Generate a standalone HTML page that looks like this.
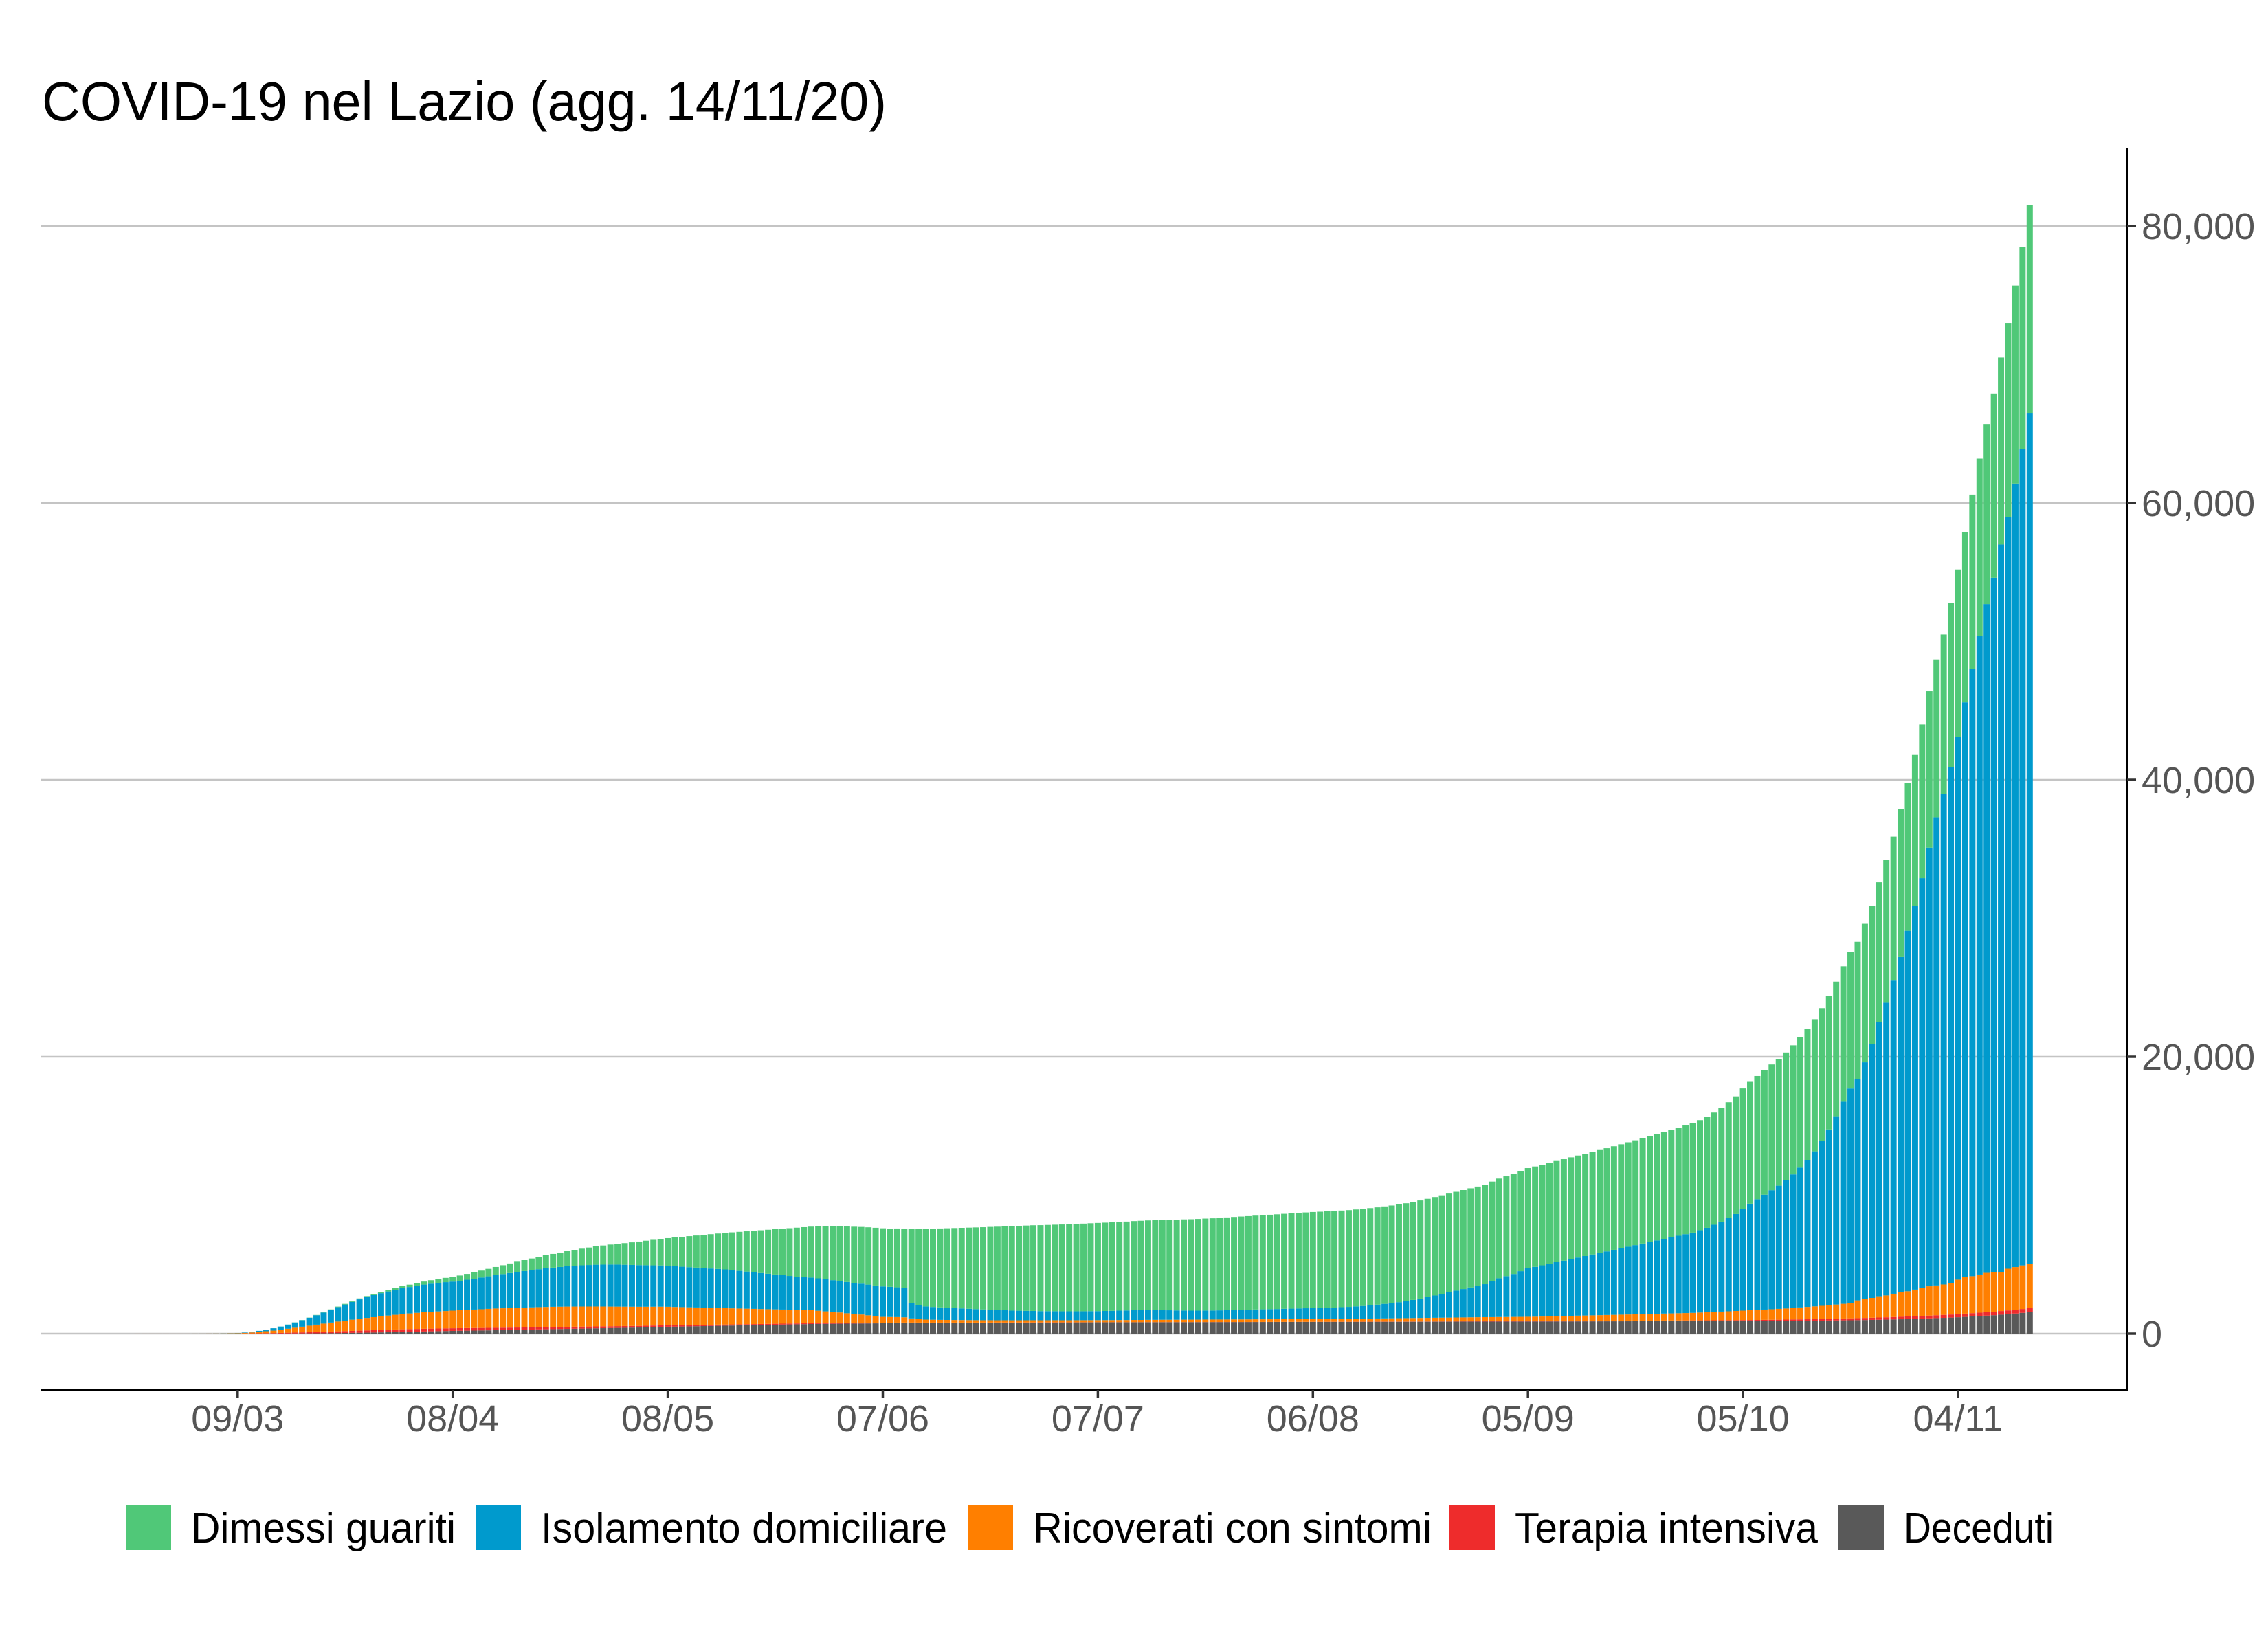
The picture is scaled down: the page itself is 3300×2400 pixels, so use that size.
<!DOCTYPE html>
<html><head><meta charset="utf-8"><title>COVID-19 nel Lazio</title>
<style>
html,body{margin:0;padding:0;background:#fff;}
svg{display:block;font-family:"Liberation Sans",sans-serif;}
</style></head>
<body>
<svg id="chart" width="3300" height="2400" viewBox="0 0 3300 2400" xmlns="http://www.w3.org/2000/svg">
<rect width="3300" height="2400" fill="#fff"/>
<text x="61" y="175" font-size="80" fill="#000" textLength="1229" lengthAdjust="spacingAndGlyphs">COVID-19 nel Lazio (agg. 14/11/20)</text>
<g id="grid"></g>
<g id="bars"></g>
<g id="axes"></g>
<g id="legend"></g>
</svg>
<script>
// Day 0 = 24/02/2020, one bar per day to 14/11/2020
const deceduti = [0,0,0,0,0,0,0,0,0,0,0,0,0,0,0,
2,3,4,5,6,8,10,13,16,20,24,29,35,41,48,55,63,71,80,90,100,110,120,131,142,154,166,178,190,200,
208,216,224,232,240,249,258,267,276,285,295,305,315,325,335,345,355,365,375,385,395,405,415,425,435,445,460,475,490,500,
505,515,525,535,545,555,565,575,585,595,605,615,625,635,645,655,665,675,685,695,700,705,710,715,720,725,730,735,740,745,
748,752,756,760,763,766,769,772,775,778,780,782,784,786,788,790,792,794,796,798,800,802,804,806,808,810,812,814,816,818,
819,820,821,822,823,824,825,826,827,828,829,830,831,832,833,834,835,836,837,838,839,840,841,842,843,844,845,846,847,848,
849,850,851,852,853,854,855,856,857,858,859,860,861,862,863,864,865,866,867,868,869,870,871,872,873,874,875,876,877,878,
879,880,881,882,883,884,885,886,887,888,889,890,891,892,893,894,895,896,897,898,899,900,901,902,903,904,905,906,908,910,
912,914,916,918,920,923,926,930,934,938,943,948,954,960,967,
975,985,995,1005,1015,1025,1040,1055,1070,1085,1100,1120,1140,1160,1185,1210,1240,1270,1300,1330,1370,1410,1450,1500,1580];
const terapia = [0,0,0,0,0,0,0,0,0,0,1,1,1,2,3,
10,15,20,28,35,45,55,65,75,85,95,105,115,125,135,145,155,165,172,180,185,190,195,198,200,200,198,196,194,192,
190,188,185,182,180,177,174,171,168,165,162,160,158,155,152,150,147,144,140,137,134,130,127,124,120,117,114,111,108,105,
102,100,98,95,92,90,88,85,82,80,78,75,72,70,68,65,62,60,58,56,55,54,53,52,51,50,49,48,47,46,
45,44,43,40,35,30,28,25,22,20,18,16,15,14,13,12,12,11,11,10,10,10,10,10,9,9,9,9,9,9,
9,9,9,8,8,8,8,8,8,8,8,7,7,7,7,7,7,7,6,6,6,6,6,7,7,7,8,8,8,9,
9,9,10,10,10,11,11,12,12,13,13,14,14,15,15,16,16,17,17,18,18,19,20,20,21,22,23,24,25,26,
26,27,28,29,30,31,32,33,34,35,36,37,38,40,42,44,46,48,50,52,54,56,58,60,62,64,66,68,70,72,
75,78,82,86,90,94,98,102,107,112,117,122,128,134,140,
145,150,156,162,168,174,180,186,192,198,204,210,216,222,228,234,240,246,252,258,264,270,276,282,290];
const ricoverati = [1,1,1,1,1,1,1,1,2,3,5,8,12,20,30,
45,70,100,140,180,230,290,350,410,470,530,590,650,710,760,810,860,900,940,980,1020,1060,1100,1130,1160,1190,1210,1230,1250,1270,
1290,1310,1330,1350,1370,1390,1400,1410,1420,1430,1440,1450,1455,1460,1460,1460,1455,1450,1445,1440,1430,1420,1410,1400,1390,1380,1370,1360,1350,1335,
1320,1300,1280,1260,1240,1220,1200,1180,1160,1140,1120,1100,1080,1060,1040,1020,1000,980,960,940,900,850,800,760,700,650,600,540,480,420,
410,400,380,300,250,220,210,200,195,190,185,180,175,170,170,165,165,160,160,160,160,155,155,155,150,150,150,150,150,150,
150,150,155,155,160,160,165,165,170,170,170,175,175,175,180,180,180,180,185,185,185,190,190,190,190,195,195,195,200,200,
200,205,205,210,210,215,215,220,225,230,235,240,245,250,255,260,265,270,275,280,285,290,295,300,300,305,305,310,310,315,
320,330,340,350,360,370,380,390,400,410,420,430,440,450,460,470,480,490,500,510,520,530,540,560,580,600,620,640,660,680,
700,720,740,760,780,800,830,860,890,920,950,980,1020,1060,1100,
1280,1385,1429,1533,1577,1681,1780,1819,1918,2017,2116,2150,2194,2288,2487,2646,2670,2754,2838,2862,2816,3010,3084,3148,3180];
const isolamento = [0,0,0,0,0,0,0,0,1,2,3,5,8,12,18,
30,50,80,120,170,230,300,380,470,570,680,800,920,1040,1160,1280,1400,1500,1590,1670,1740,1800,1860,1910,1960,2000,2035,2065,2085,2100,
2130,2180,2230,2290,2350,2410,2470,2530,2590,2640,2690,2740,2790,2830,2870,2910,2950,2980,3000,3020,3030,3040,3040,3030,3020,3010,3000,2990,2980,2960,
2940,2920,2900,2880,2860,2840,2820,2800,2760,2720,2680,2640,2600,2560,2520,2480,2440,2400,2380,2360,2340,2320,2300,2280,2260,2240,2230,2220,2210,2200,
2180,2150,2100,1100,1000,950,920,900,880,860,840,820,800,780,760,740,720,700,690,680,670,660,655,650,650,645,645,645,650,650,
660,670,680,690,700,700,700,700,690,680,670,660,650,650,650,650,660,670,680,690,700,710,720,730,740,750,760,770,780,790,
800,810,820,840,860,890,920,960,1000,1050,1100,1160,1230,1310,1400,1500,1610,1720,1830,1940,2050,2160,2270,2380,2600,2800,2950,3100,3300,3500,
3600,3700,3800,3900,4000,4100,4200,4300,4400,4500,4600,4700,4800,4900,5000,5100,5200,5300,5400,5500,5600,5700,5800,5950,6100,6300,6500,6750,7000,7350,
7700,8000,8300,8600,8900,9250,9650,10100,10600,11200,11900,12700,13600,14600,15500,
16000,17080,18320,19800,21140,22620,24200,26040,27720,29600,31680,33820,35450,37230,39200,41510,43850,46130,48310,50150,52550,54310,56590,58970,61450];
const guariti = [0,0,0,0,0,0,0,0,0,0,0,0,0,0,0,
0,0,0,1,2,3,5,8,12,16,20,25,30,38,46,55,65,76,88,100,115,130,150,170,195,220,250,280,310,350,
380,420,460,500,540,590,640,690,740,790,840,890,940,990,1040,1090,1140,1200,1260,1320,1380,1440,1500,1560,1630,1700,1770,1840,1920,2000,
2080,2160,2240,2320,2400,2480,2560,2640,2730,2820,2910,3000,3090,3180,3270,3360,3450,3540,3610,3680,3750,3820,3890,3950,4010,4060,4100,4140,4170,4200,
4210,4250,4300,5350,5500,5600,5650,5700,5740,5780,5820,5860,5900,5940,5980,6020,6060,6100,6130,6160,6190,6210,6230,6250,6270,6290,6310,6330,6350,6370,
6380,6390,6400,6420,6440,6460,6480,6500,6520,6540,6560,6580,6600,6620,6640,6660,6680,6700,6720,6740,6760,6780,6800,6820,6840,6860,6880,6900,6920,6940,
6950,6960,6970,6980,6990,7000,7010,7020,7030,7040,7050,7060,7070,7080,7090,7100,7110,7120,7130,7140,7150,7160,7170,7180,7190,7200,7210,7220,7230,7240,
7250,7270,7290,7310,7330,7350,7370,7390,7410,7430,7450,7480,7510,7540,7570,7600,7640,7680,7720,7760,7800,7850,7900,7950,8000,8100,8200,8350,8500,8700,
8800,8900,9000,9080,9160,9240,9320,9400,9470,9540,9600,9660,9720,9780,9840,
9900,10000,10000,10100,10300,10400,10700,10700,10900,11100,11300,11400,11500,11900,12100,12300,12600,12800,13000,13300,13500,14000,14300,14600,15000];
const xTickLabels = ["09/03","08/04","08/05","07/06","07/07","06/08","05/09","05/10","04/11"];
const xTickDays = [14,44,74,104,134,164,194,224,254];
const yTickValues = [0,20000,40000,60000,80000];
const yTickLabels = ["0","20,000","40,000","60,000","80,000"];
const seriesNames = ["Dimessi guariti","Isolamento domiciliare","Ricoverati con sintomi","Terapia intensiva","Deceduti"];

const NS = "http://www.w3.org/2000/svg";
const colors = ["#50c878","#009acd","#ff7f00","#ee2c2c","#595959"];
const plotL = 59, plotR = 3095, axisY = 2023;
function xScale(i){ return 2849 + (i - 254) * 10.43; }
function yScale(v){ return 1941 - v * (1941 - 329) / 80000; }
function mk(tag, attrs, parent){ const e = document.createElementNS(NS, tag); for (const k in attrs) e.setAttribute(k, attrs[k]); parent.appendChild(e); return e; }

const grid = document.getElementById('grid');
yTickValues.forEach((v) => {
  const ln = mk('line', {x1: plotL, x2: plotR, y1: yScale(v), y2: yScale(v), stroke: '#c4c4c4', 'stroke-width': 2.5}, grid);
  
  
});

const bars = document.getElementById('bars');
const stackOrder = [deceduti, terapia, ricoverati, isolamento, guariti];
const stackColors = [colors[4], colors[3], colors[2], colors[1], colors[0]];
const stackNames = ['bar-deceduti','bar-terapia-intensiva','bar-ricoverati','bar-isolamento','bar-guariti'];
const bw = 9;
for (let i = 0; i < deceduti.length; i++) {
  let base = 0;
  for (let s = 0; s < stackOrder.length; s++) {
    const v = stackOrder[s][i] || 0;
    if (v <= 0) continue;
    const y0 = yScale(base), y1 = yScale(base + v);
    const r = mk('rect', {x: xScale(i) - bw/2, y: y1, width: bw, height: Math.max(0, y0 - y1), fill: stackColors[s]}, bars);
    
    
    base += v;
  }
}

const axes = document.getElementById('axes');
const xa = mk('line', {x1: plotL, x2: plotR + 2, y1: axisY, y2: axisY, stroke: '#000', 'stroke-width': 4}, axes);


const ya = mk('line', {x1: plotR, x2: plotR, y1: 215, y2: axisY + 2, stroke: '#000', 'stroke-width': 4}, axes);


yTickValues.forEach((v, k) => {
  const t = mk('line', {x1: plotR, x2: plotR + 13, y1: yScale(v), y2: yScale(v), stroke: '#333', 'stroke-width': 3.5}, axes);
  
  
  const tx = mk('text', {x: 3116, y: yScale(v) + 19, 'font-size': 54, fill: '#555'}, axes);
  tx.textContent = yTickLabels[k];
  
  
});
xTickDays.forEach((d, k) => {
  const t = mk('line', {x1: xScale(d), x2: xScale(d), y1: axisY, y2: axisY + 12, stroke: '#333', 'stroke-width': 3.5}, axes);
  
  
  const tx = mk('text', {x: xScale(d), y: 2083, 'font-size': 54, fill: '#555', 'text-anchor': 'middle'}, axes);
  tx.textContent = xTickLabels[k];
  
  
});

const legend = document.getElementById('legend');
const keyX = [183, 692, 1408, 2109, 2675];
const textEnd = [663, 1378, 2083, 2645, 2988];
seriesNames.forEach((n, k) => {
  const r = mk('rect', {x: keyX[k], y: 2190, width: 66, height: 66, fill: colors[k]}, legend);
  
  
  const tx = mk('text', {x: keyX[k] + 95, y: 2245, 'font-size': 62, fill: '#000', textLength: textEnd[k] - keyX[k] - 95, lengthAdjust: 'spacingAndGlyphs'}, legend);
  tx.textContent = n;
  
  
});
</script>
</body></html>
